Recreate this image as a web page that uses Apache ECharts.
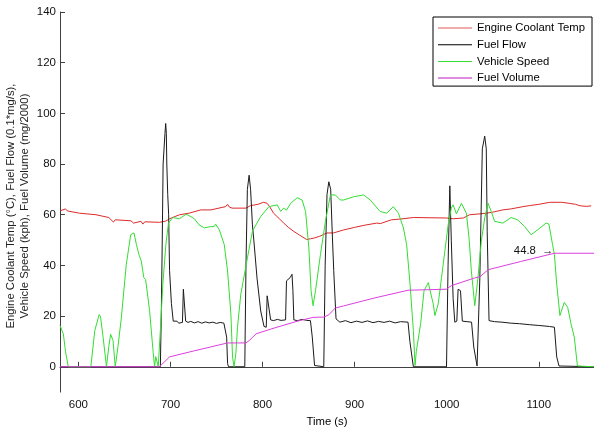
<!DOCTYPE html>
<html>
<head>
<meta charset="utf-8">
<script src="https://cdn.jsdelivr.net/npm/echarts@6/dist/echarts.min.js"></script>
<style>
  html, body { margin: 0; padding: 0; background: #fff; }
  #chart { width: 594px; height: 432px; }
</style>
</head>
<body>
<div id="chart"></div>
<script>
// time (s) / value pairs
const coolantTemp = [
  [580,61.5],[586,62.3],[588,61.5],[601,60.6],[603,60.2],[619,60],[621,59.3],[633,58.9],[635,58.4],
  [638,57.1],[640,58],[657,57.6],[660,56.7],[668,57.4],[670,56.3],[672,57.2],[674,56.5],[688,57],
  [690,57.2],[695,57.5],[699,58.4],[705,59.3],[710,60],[720,60.6],[733,61.9],[744,61.9],[755,62.8],
  [760,63.2],[762,64.1],[764,63],[767,62.6],[782,62.6],[787,63.6],[795,64.1],[801,64.9],[805,64.5],
  [808,63],[812,60.6],[818,58.5],[823,56.7],[828,55],[834,53.4],[840,52],[848,50.2],[852,50.5],
  [856,50.8],[862,51.5],[870,52.8],[877,52.8],[888,54],[900,55],[910,55.8],[924,56.7],[928,56.5],
  [930,57],[940,58],[950,58.3],[964,58.9],[1000,58.7],[1007,58.4],[1018,58.7],[1025,60],[1035,60.3],
  [1043,60.6],[1050,61],[1061,61.9],[1070,62.3],[1083,63.2],[1090,63.6],[1100,64.1],[1112,64.9],
  [1125,64.9],[1133,64.5],[1140,64.1],[1144,63.6],[1146,64],[1148,63.4],[1150,63.9],[1152,63.3],
  [1154,63.8],[1157,63.5]
];
const fuelFlow = [
  [580,0],[689,0],[690,20],[691,48],[692,80],[694,92],[694.8,96],[695.5,92],[696,80],[697,68],[698,60],
  [699,38],[701,25],[703,18],[705,17.5],[707,18],[709,17.2],[711,17.8],[713,17.5],[714,30.6],[715.5,30],
  [716.5,18],[719,17.5],[722,17.9],[726,17.3],[730,17.8],[734,17.2],[738,17.7],[742,17.3],[746,17.6],
  [750,17.1],[754,17.5],[758,17.2],[760,17.2],[761,11.7],[762,1.3],[763,0],[780.7,0],[782,40],
  [783.5,70],[785.4,75.6],[787,70],[789,56],[791,48],[794,35],[798,22],[801.6,15.9],[804,15.6],
  [805,28],[806.5,27.4],[808.8,18.5],[812,18.2],[816,18.7],[820,18.3],[825,18.5],[826,33.9],[830,35.2],
  [832,36.5],[833,30],[834,18.5],[838,18.2],[843,18.7],[848,18.3],[852,18.2],[854,11.7],[856.5,0.5],
  [866.5,0],[868,40],[870,68],[872,73],[874,70],[876,50],[877.3,38],[879.8,18.9],[884,17.6],[890,18.2],
  [896,17.4],[902,18],[908,17.5],[914,18.1],[920,17.4],[926,17.9],[932,17.5],[938,18],[944,17.3],
  [950,17.8],[958,17.6],[960,10],[963.8,0],[999.8,0],[1001.5,40],[1003.4,71.4],[1005,50],[1007,27],
  [1008.8,17.6],[1011,18],[1012.4,30.6],[1015,30],[1017,18],[1022,17.8],[1027,17.6],[1029.4,7.8],
  [1033,0.3],[1036,35],[1038.7,86],[1041.3,91],[1043,86],[1044,53.5],[1046,18.2],[1052,17.8],
  [1060,17.6],[1070,17.2],[1079,17],[1090,16.6],[1100,16.3],[1111.6,15.9],[1117,15.6],[1119.5,3.9],
  [1122,0.3],[1123,0],[1160,0]
];
const vehicleSpeed = [
  [580,16.3],[583.6,13],[586,6],[589,0],[613.5,0],[617.8,14.3],[622.5,20.6],[624,19.8],[626.8,11.7],
  [630.5,0],[633,8],[635,12.8],[637.6,10.4],[640,0],[643,8],[646.7,19.6],[652,40.4],[656.8,52.1],
  [660.4,52.8],[663,48.2],[666,44],[668.3,41.7],[671,35.2],[673,34.4],[677.3,22.2],[681,6.5],
  [682.7,0],[684,4],[686.7,0],[689,14.3],[691.7,32.6],[695,48.2],[697.8,56.7],[702.5,58.9],
  [709.7,58.4],[717,60.2],[721,59.5],[726,58.4],[731,56],[736.8,54.8],[742,55.2],[747.6,55.4],
  [749,56.3],[753,54.1],[758.4,48.2],[762,37.8],[765.6,20.8],[767.4,3.9],[769,0],[771,5.2],
  [772.8,15.6],[776.4,28.7],[783.6,43],[789,53.5],[798,59.3],[807,63.2],[816,63.9],[819.7,61.3],
  [823,62.6],[826,61.8],[830.5,64.5],[837.6,66.7],[843,65.8],[846.7,61.3],[850.3,46.9],[852.7,30],
  [854.9,24.1],[857.5,30],[862.9,44.3],[868.3,57.4],[873.7,67.8],[879,67.8],[884.5,65.8],[888,65.8],
  [899,67.1],[909.7,67.8],[917,65.8],[927.6,61.3],[935,60.6],[942,63.2],[947.6,60.6],[953,54.8],
  [956.5,48.2],[960.2,32.6],[963.8,14.3],[965.6,0.5],[967,6],[971.7,17],[975.4,30],[980,33.2],
  [982,32.6],[985.4,24.8],[987.2,20.2],[990.8,24.8],[994.4,35.2],[998,45.6],[1001.6,56],[1005,62.6],
  [1007,63.9],[1010.6,60.3],[1016,64.5],[1017.8,64.5],[1021.4,60.6],[1024.3,50.8],[1026.8,37.8],
  [1030.5,24.1],[1034,35.2],[1037.6,49.5],[1041.3,58.7],[1044.9,64.5],[1048.4,61.3],[1052,57.4],
  [1061,56.7],[1070,58.9],[1077,58],[1084.5,55.4],[1091.7,52.1],[1099,54.1],[1108,56.7],[1111,56.3],
  [1115,48.2],[1117,44.3],[1119.5,32.6],[1123,20.2],[1127.7,25.4],[1131.4,23.5],[1135,17],
  [1138.6,11.7],[1142,0.3],[1143,0],[1160,0]
];
const fuelVolume = [
  [580,0],[688,0],[699,3.9],[726,6.3],[762,9.4],[782,9.4],[786,10.5],[793,13],[810,15],[838,18],
  [855,19.5],[866.5,19.6],[872,20.5],[879,23.2],[888,24],[920,27],[958,30.2],[999.5,30.6],[1005,32],
  [1030,35],[1036,35.5],[1045,38.3],[1080,41.5],[1117,44.8],[1160,44.8]
];
const annotation = [1117, 44.8];
const xTicks = [600, 700, 800, 900, 1000, 1100];
const yTicks = [0, 20, 40, 60, 80, 100, 120, 140];
const seriesNames = ['Engine Coolant Temp', 'Fuel Flow', 'Vehicle Speed', 'Fuel Volume'];

const FONT = 'Liberation Sans, Arial, sans-serif';
const chart = echarts.init(document.getElementById('chart'));

const line = (name, data, color, extra) => Object.assign({
  type: 'line',
  name: name,
  data: data,
  symbol: 'none',
  animation: false,
  lineStyle: { color: color, width: 1 },
  itemStyle: { color: color }
}, extra || {});

const thin = 'path://M0,0h34v1h-34z';
const thick = 'path://M0,0h34v2h-34z';

chart.setOption({
  backgroundColor: '#fff',
  grid: { left: 60, top: 12, width: 537, height: 384 },
  legend: {
    orient: 'vertical',
    left: 433,
    top: 17,
    padding: [4, 7, 1, 5],
    itemWidth: 34,
    itemHeight: 10,
    itemGap: 2.7,
    borderColor: '#000',
    borderWidth: 1,
    backgroundColor: '#fff',
    textStyle: { color: '#000', fontSize: 11.3, fontFamily: FONT, lineHeight: 14 },
    data: [
      { name: seriesNames[0], icon: thin, itemStyle: { color: '#e85a5a' } },
      { name: seriesNames[1], icon: thin, itemStyle: { color: '#000' } },
      { name: seriesNames[2], icon: thin, itemStyle: { color: '#33dd33' } },
      { name: seriesNames[3], icon: thick, itemStyle: { color: '#e08ae0' } }
    ]
  },
  xAxis: {
    type: 'value',
    min: 580,
    max: 1160,
    name: 'Time (s)',
    nameLocation: 'middle',
    nameGap: 19,
    nameTextStyle: { color: '#000', fontSize: 11.3, fontFamily: FONT },
    axisLine: { lineStyle: { color: '#404040', width: 1 } },
    axisTick: { inside: true, length: 5, customValues: xTicks, lineStyle: { color: '#404040' } },
    axisLabel: { customValues: xTicks, formatter: (v) => String(v), color: '#111', fontSize: 11.5, fontFamily: FONT, margin: 7 },
    splitLine: { show: false }
  },
  yAxis: {
    type: 'value',
    min: -10,
    max: 140,
    axisLine: { show: true, lineStyle: { color: '#404040', width: 1 } },
    axisTick: { show: true, inside: true, length: 5, customValues: yTicks, lineStyle: { color: '#404040' } },
    axisLabel: { customValues: yTicks, formatter: (v) => String(v), color: '#111', fontSize: 11.5, fontFamily: FONT, margin: 4 },
    splitLine: { show: false }
  },
  graphic: [
    {
      type: 'text', x: 10.5, y: 206, rotation: Math.PI / 2,
      style: { text: 'Engine Coolant Temp (\u00B0C), Fuel Flow (0.1*mg/s),', fontSize: 11.3,
        fontFamily: FONT, fill: '#222', align: 'center', verticalAlign: 'middle' }
    },
    {
      type: 'text', x: 24.5, y: 206, rotation: Math.PI / 2,
      style: { text: 'Vehicle Speed (kph), Fuel Volume (mg/2000)', fontSize: 11.3,
        fontFamily: FONT, fill: '#222', align: 'center', verticalAlign: 'middle' }
    }
  ],
  series: [
    line(seriesNames[0], coolantTemp, '#dd2a2a'),
    line(seriesNames[1], fuelFlow, '#1a1a1a'),
    line(seriesNames[2], vehicleSpeed, '#33dd33'),
    line(seriesNames[3], fuelVolume, '#dd3edd', {
      markPoint: {
        symbol: 'circle',
        symbolSize: 0,
        silent: true,
        data: [{ coord: annotation, value: annotation[1] }],
        label: {
          show: true,
          position: 'left',
          distance: 1,
          offset: [0, -2],
          formatter: (p) => p.value + '  \u2192',
          color: '#111',
          fontSize: 11.3,
          fontFamily: FONT
        }
      }
    })
  ]
});
</script>
</body>
</html>
